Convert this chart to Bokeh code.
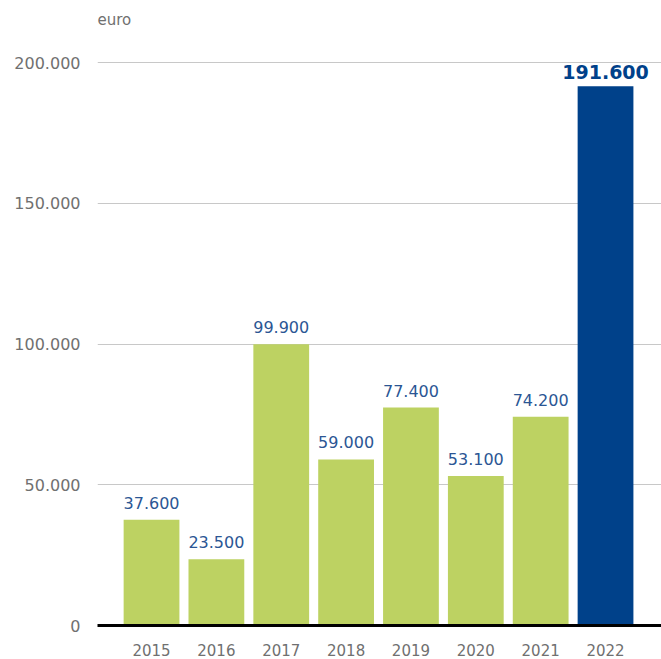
from bokeh.plotting import figure
from bokeh.models import FixedTicker, Label, LabelSet, ColumnDataSource, Range1d
from bokeh.embed import file_html
from bokeh.resources import INLINE
from bokeh.core.properties import value

years = ["2015", "2016", "2017", "2018", "2019", "2020", "2021", "2022"]
amounts = [37600, 23500, 99900, 59000, 77400, 53100, 74200, 191600]
amount_labels = ["37.600", "23.500", "99.900", "59.000", "77.400", "53.100", "74.200", "191.600"]
y_ticks = [0, 50000, 100000, 150000, 200000]
y_tick_labels = ["0", "50.000", "100.000", "150.000", "200.000"]
unit_label = "euro"

GREEN = "#bdd262"
BLUE = "#00418a"
LABEL_BLUE = "#2b5694"
GRAY = "#707070"
FONT = "DejaVu Sans"

xs = list(range(len(years)))
colors = [GREEN] * (len(years) - 1) + [BLUE]

x_start = -0.833
y_end = 222025

p = figure(width=661, height=659, output_backend="svg", toolbar_location=None,
           x_range=Range1d(x_start, 7.863), y_range=Range1d(0, y_end),
           min_border_left=97, min_border_right=0, min_border_top=0, min_border_bottom=34)
p.outline_line_color = None
p.background_fill_color = "white"
p.border_fill_color = "white"

src = ColumnDataSource(dict(x=xs, top=amounts, color=colors))
p.vbar(x="x", top="top", width=0.86, bottom=0, color="color", source=src, line_color=None)

# axes
p.xaxis.ticker = FixedTicker(ticks=xs)
p.xaxis.major_label_overrides = {i: y for i, y in enumerate(years)}
p.xaxis.axis_line_color = "black"
p.xaxis.axis_line_width = 3
p.xaxis.major_tick_line_color = None
p.xaxis.minor_tick_line_color = None
p.xaxis.major_label_standoff = 12
p.xaxis.major_label_text_font = FONT
p.xaxis.major_label_text_font_size = "15px"
p.xaxis.major_label_text_color = GRAY

p.yaxis.ticker = FixedTicker(ticks=y_ticks)
p.yaxis.major_label_overrides = {t: l for t, l in zip(y_ticks, y_tick_labels)}
p.yaxis.axis_line_color = None
p.yaxis.major_tick_line_color = None
p.yaxis.minor_tick_line_color = None
p.yaxis.major_label_standoff = 11
p.yaxis.major_label_text_font = FONT
p.yaxis.major_label_text_font_size = "16px"
p.yaxis.major_label_text_color = GRAY

p.xgrid.grid_line_color = None
p.ygrid.grid_line_color = "#c8c8c8"
p.ygrid.grid_line_width = 1

# value labels
n = len(years) - 1
src_reg = ColumnDataSource(dict(x=xs[:n], y=amounts[:n], t=amount_labels[:n]))
p.add_layout(LabelSet(x="x", y="y", text="t", source=src_reg, text_align="center",
                      text_baseline="middle", y_offset=17, text_font=value(FONT),
                      text_font_size="16px", text_color=LABEL_BLUE))
src_hi = ColumnDataSource(dict(x=xs[n:], y=amounts[n:], t=amount_labels[n:]))
p.add_layout(LabelSet(x="x", y="y", text="t", source=src_hi, text_align="center",
                      text_baseline="middle", y_offset=14, text_font=value(FONT),
                      text_font_size="19px", text_font_style="bold", text_color=BLUE))

p.add_layout(Label(x=x_start, y=215275, text=unit_label, text_baseline="middle",
                   text_align="left", text_font=FONT, text_font_size="15px",
                   text_color=GRAY))

open("out.html", "w").write(file_html(p, INLINE))
